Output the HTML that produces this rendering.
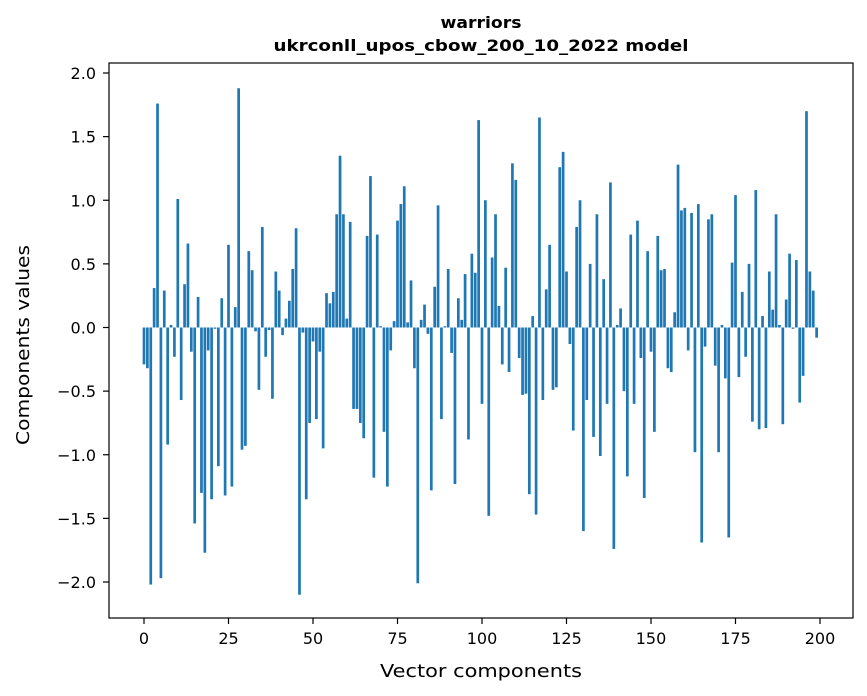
<!DOCTYPE html>
<html><head><meta charset="utf-8"><style>
body{margin:0;background:#fff;}
svg{display:block;font-family:"DejaVu Sans","Liberation Sans",sans-serif;}
</style></head><body>
<svg id="chart" width="867" height="696" viewBox="0 0 867 696">
<rect x="0" y="0" width="867" height="696" fill="#fff"/>
<text x="481" y="28" text-anchor="middle" font-size="16" font-weight="bold" textLength="81" lengthAdjust="spacingAndGlyphs">warriors</text>
<text x="481" y="51" text-anchor="middle" font-size="16" font-weight="bold" textLength="415" lengthAdjust="spacingAndGlyphs">ukrconll_upos_cbow_200_10_2022 model</text>
<g id="bars"></g>
<g id="yticks"></g>
<g id="xticks"></g>
<rect x="109" y="63" width="744" height="555" fill="none" stroke="#000" stroke-width="1.2"/>
<text x="481" y="677" text-anchor="middle" font-size="18" textLength="202" lengthAdjust="spacingAndGlyphs">Vector components</text>
<text x="0" y="0" transform="translate(29,345) rotate(-90)" text-anchor="middle" font-size="18" textLength="200" lengthAdjust="spacingAndGlyphs">Components values</text>
</svg>
<script>
const values = [
-0.29,-0.32,-2.02,0.31,1.76,-1.97,0.29,-0.92,0.02,-0.23,
1.01,-0.57,0.34,0.66,-0.19,-1.54,0.24,-1.30,-1.77,-0.18,
-1.35,-0.01,-1.09,0.23,-1.32,0.65,-1.25,0.16,1.88,-0.96,
-0.93,0.60,0.45,-0.03,-0.49,0.79,-0.23,-0.02,-0.56,0.44,
0.29,-0.06,0.07,0.21,0.46,0.78,-2.10,-0.04,-1.35,-0.75,
-0.11,-0.72,-0.19,-0.95,0.27,0.19,0.28,0.89,1.35,0.89,
0.07,0.83,-0.64,-0.64,-0.75,-0.87,0.72,1.19,-1.18,0.73,
0.01,-0.82,-1.25,-0.18,0.05,0.84,0.97,1.11,0.04,0.37,
-0.32,-2.01,0.06,0.18,-0.05,-1.28,0.32,0.96,-0.72,0.01,
0.46,-0.20,-1.23,0.23,0.06,0.42,-0.88,0.58,0.43,1.63,
-0.60,1.00,-1.48,0.55,0.89,0.17,-0.29,0.47,-0.35,1.29,
1.16,-0.24,-0.53,-0.52,-1.31,0.09,-1.47,1.65,-0.57,0.30,
0.65,-0.49,-0.47,1.26,1.38,0.44,-0.13,-0.81,0.79,1.00,
-1.60,-0.57,0.50,-0.86,0.89,-1.01,0.38,-0.60,1.14,-1.74,
0.02,0.15,-0.50,-1.17,0.73,-0.60,0.84,-0.24,-1.34,0.60,
-0.19,-0.82,0.72,0.45,0.46,-0.32,-0.35,0.12,1.28,0.92,
0.94,-0.18,0.90,-0.98,0.97,-1.69,-0.15,0.85,0.89,-0.30,
-0.98,0.02,-0.40,-1.65,0.51,1.04,-0.39,0.28,-0.23,0.50,
-0.74,1.08,-0.80,0.09,-0.79,0.44,0.14,0.89,0.02,-0.76,
0.22,0.58,-0.01,0.53,-0.59,-0.38,1.70,0.44,0.29,-0.08
];
const yTickValues = [-2.0,-1.5,-1.0,-0.5,0.0,0.5,1.0,1.5,2.0];
const yTickLabels = ["\u22122.0","\u22121.5","\u22121.0","\u22120.5","0.0","0.5","1.0","1.5","2.0"];
const xTickValues = [0,25,50,75,100,125,150,175,200];
const xTickLabels = ["0","25","50","75","100","125","150","175","200"];

const NS = "http://www.w3.org/2000/svg";
function xScale(i){ return 144 + i*(676/200); }
function yScale(v){ return 327.5 - v*127.25; }
const barW = 0.8*676/200;

const gb = document.getElementById('bars');
values.forEach((v,i)=>{
  const r = document.createElementNS(NS,'rect');
  const y0 = yScale(0), y1 = yScale(v);
  r.setAttribute('x', xScale(i)-barW/2);
  r.setAttribute('y', Math.min(y0,y1));
  r.setAttribute('width', barW);
  r.setAttribute('height', Math.max(Math.abs(y1-y0),0.3));
  r.setAttribute('fill', '#1f77b4');
  
  
  gb.appendChild(r);
});

const gy = document.getElementById('yticks');
yTickValues.forEach((v,k)=>{
  const y = yScale(v);
  const l = document.createElementNS(NS,'line');
  l.setAttribute('x1',103); l.setAttribute('x2',109);
  l.setAttribute('y1',y); l.setAttribute('y2',y);
  l.setAttribute('stroke','#000'); l.setAttribute('stroke-width','1.2');
  
  
  gy.appendChild(l);
  const t = document.createElementNS(NS,'text');
  t.setAttribute('x',96); t.setAttribute('y',y+6);
  t.setAttribute('text-anchor','end'); t.setAttribute('font-size','16');
  t.textContent = yTickLabels[k];
  
  
  gy.appendChild(t);
});

const gx = document.getElementById('xticks');
xTickValues.forEach((v,k)=>{
  const x = xScale(v);
  const l = document.createElementNS(NS,'line');
  l.setAttribute('x1',x); l.setAttribute('x2',x);
  l.setAttribute('y1',618); l.setAttribute('y2',624);
  l.setAttribute('stroke','#000'); l.setAttribute('stroke-width','1.2');
  
  
  gx.appendChild(l);
  const t = document.createElementNS(NS,'text');
  t.setAttribute('x',x); t.setAttribute('y',644);
  t.setAttribute('text-anchor','middle'); t.setAttribute('font-size','16');
  t.textContent = xTickLabels[k];
  
  
  gx.appendChild(t);
});
</script>
</body></html>
